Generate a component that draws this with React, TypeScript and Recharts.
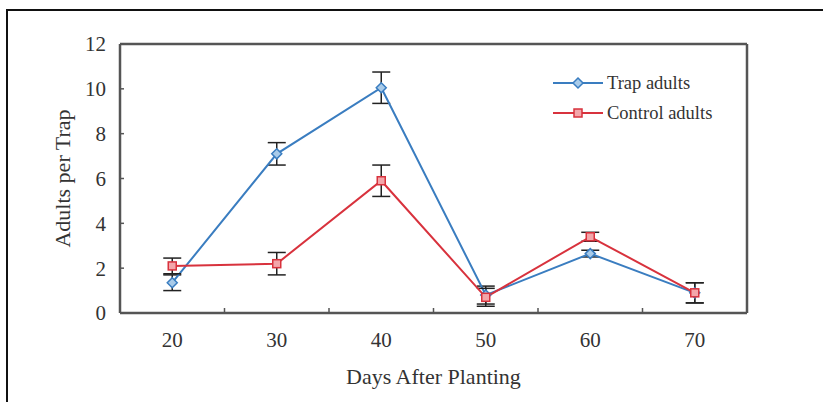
import React from 'react';
import { LineChart, Line, XAxis, YAxis, ErrorBar, Legend, Label } from 'recharts';

const days = [20, 30, 40, 50, 60, 70];
const trapAdults = [1.35, 7.1, 10.05, 0.8, 2.65, 0.9];
const trapErr = [0.35, 0.5, 0.7, 0.4, 0.15, 0.45];
const controlAdults = [2.1, 2.2, 5.9, 0.7, 3.4, 0.9];
const controlErr = [0.35, 0.5, 0.7, 0.4, 0.2, 0.45];
const xTicks = [20, 30, 40, 50, 60, 70];
const xMinorTicks = [25, 35, 45, 55, 65];
const yTicks = [0, 2, 4, 6, 8, 10, 12];
const seriesOrder = ['trap', 'control'];

const data = days.map((d, i) => ({
  day: d,
  trap: trapAdults[i],
  trapErr: trapErr[i],
  control: controlAdults[i],
  controlErr: controlErr[i],
}));

const BLUE = '#3a7dc0';
const BLUE_FILL = '#a9cbe9';
const RED = '#d8323d';
const RED_FILL = '#f3a6aa';
const FRAME = '#555';
const TEXT = '#333';
const FONT = '"Liberation Serif", "Times New Roman", serif';

const Diamond = (props: any) => {
  const { cx, cy } = props;
  if (cx == null || cy == null) return null;
  const r = 5;
  return (
    <polygon
      points={`${cx},${cy - r} ${cx + r},${cy} ${cx},${cy + r} ${cx - r},${cy}`}
      fill={BLUE_FILL}
      stroke={BLUE}
      strokeWidth={1.5}
    />
  );
};

const Square = (props: any) => {
  const { cx, cy } = props;
  if (cx == null || cy == null) return null;
  const r = 4;
  return (
    <rect x={cx - r} y={cy - r} width={2 * r} height={2 * r} fill={RED_FILL} stroke={RED} strokeWidth={1.5} />
  );
};

const LegendContent = (props: any) => {
  const payload = [...(props.payload || [])].sort(
    (a: any, b: any) => seriesOrder.indexOf(a.dataKey) - seriesOrder.indexOf(b.dataKey)
  );
  return (
    <div style={{ fontFamily: FONT, fontSize: 18.5, color: TEXT, lineHeight: 1 }}>
      {payload.map((p: any, i: number) => {
        const isTrap = p.dataKey === 'trap';
        return (
          <div key={i} style={{ display: 'flex', alignItems: 'center', height: 30 }}>
            <svg width={54} height={14} style={{ display: 'block' }}>
              <line x1={0} y1={7} x2={50} y2={7} stroke={p.color} strokeWidth={2} />
              {isTrap ? (
                <polygon points="25,2 30,7 25,12 20,7" fill={BLUE_FILL} stroke={BLUE} strokeWidth={1.5} />
              ) : (
                <rect x={21} y={3} width={8} height={8} fill={RED_FILL} stroke={RED} strokeWidth={1.5} />
              )}
            </svg>
            <span>{p.value}</span>
          </div>
        );
      })}
    </div>
  );
};

const emptyLabel = () => '';

export default function App() {
  return (
    <div style={{ position: 'absolute', left: 0, top: 0, width: 823, height: 402, background: '#fff', overflow: 'hidden' }}>
      <div
        style={{
          position: 'absolute',
          left: 6,
          top: 9,
          width: 830,
          height: 400,
          borderLeft: '2px solid #111',
          borderTop: '2px solid #111',
        }}
      />
      <LineChart
        width={823}
        height={402}
        data={data}
        margin={{ top: 43, right: 75, left: 40, bottom: 18 }}
        style={{ fontFamily: FONT }}
      >
        <XAxis
          xAxisId="minor"
          dataKey="day"
          type="number"
          domain={[15, 75]}
          ticks={xMinorTicks}
          height={1}
          tickFormatter={emptyLabel}
          tick={{ fontSize: 1, fill: 'none' }}
          axisLine={false}
          mirror
          tickSize={5}
          tickLine={{ stroke: FRAME, strokeWidth: 1.5 }}
        />
        <XAxis
          dataKey="day"
          type="number"
          domain={[15, 75]}
          ticks={xTicks}
          height={71}
          tickLine={false}
          tickSize={6}
          tickMargin={13}
          axisLine={{ stroke: FRAME, strokeWidth: 2.5 }}
          tick={{ fill: TEXT, fontSize: 21, fontFamily: FONT }}
        >
          <Label
            value="Days After Planting"
            position="insideBottom"
            offset={0}
            style={{ fill: TEXT, fontSize: 22, fontFamily: FONT }}
          />
        </XAxis>
        <XAxis
          xAxisId="top"
          orientation="top"
          dataKey="day"
          type="number"
          domain={[15, 75]}
          height={1}
          tick={false}
          tickLine={false}
          axisLine={{ stroke: FRAME, strokeWidth: 2.5 }}
        />
        <YAxis
          type="number"
          domain={[0, 12]}
          ticks={yTicks}
          width={80}
          tickSize={-4}
          tickMargin={18}
          tickLine={{ stroke: FRAME, strokeWidth: 1.5 }}
          axisLine={{ stroke: FRAME, strokeWidth: 2.5 }}
          tick={{ fill: TEXT, fontSize: 21, fontFamily: FONT }}
        >
          <Label
            value="Adults per Trap"
            angle={-90}
            position="center"
            dx={-18}
            style={{ fill: TEXT, fontSize: 22, fontFamily: FONT, textAnchor: 'middle' }}
          />
        </YAxis>
        <YAxis
          yAxisId="right"
          orientation="right"
          type="number"
          domain={[0, 12]}
          width={1}
          tick={false}
          tickLine={false}
          axisLine={{ stroke: FRAME, strokeWidth: 2.5 }}
        />
        <Legend
          layout="vertical"
          verticalAlign="middle"
          align="center"
          content={<LegendContent />}
          wrapperStyle={{ top: 68, left: 553, width: 220 }}
        />
        <Line
          dataKey="trap"
          name="Trap adults"
          stroke={BLUE}
          strokeWidth={2}
          dot={<Diamond />}
          activeDot={false}
          isAnimationActive={false}
        >
          <ErrorBar dataKey="trapErr" width={9} stroke="#222" strokeWidth={1.5} isAnimationActive={false} />
        </Line>
        <Line
          dataKey="control"
          name="Control adults"
          stroke={RED}
          strokeWidth={2}
          dot={<Square />}
          activeDot={false}
          isAnimationActive={false}
        >
          <ErrorBar dataKey="controlErr" width={9} stroke="#222" strokeWidth={1.5} isAnimationActive={false} />
        </Line>
      </LineChart>
    </div>
  );
}
